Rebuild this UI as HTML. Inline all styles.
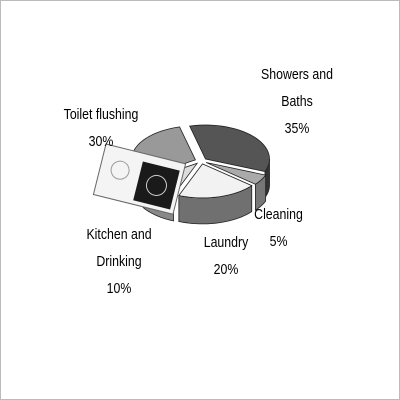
<!DOCTYPE html>
<html><head><meta charset="utf-8"><style>
body{margin:0;background:#fff}
#wrap{position:relative;width:398px;height:398px;border:1px solid #bbb;overflow:hidden}
.l{position:absolute;font-family:"Liberation Sans",sans-serif;font-size:14.5px;text-align:center;line-height:27px;color:#000;transform:scaleX(0.85)}
</style></head><body>
<div id="wrap">
<svg id="pie" width="398" height="398"></svg>
<div class="l" style="left:236px;top:61px;width:120px">Showers and<br>Baths<br>35%</div>
<div class="l" style="left:40px;top:101px;width:120px">Toilet flushing<br>30%</div>
<div class="l" style="left:240px;top:201px;width:75px">Cleaning<br>5%</div>
<div class="l" style="left:190px;top:229px;width:70px">Laundry<br>20%</div>
<div class="l" style="left:63px;top:221px;width:110px">Kitchen and<br>Drinking<br>10%</div>
</div>
<script>
const categories=["Showers and Baths","Cleaning","Laundry","Kitchen and Drinking","Toilet flushing"];
const values=[35,5,20,10,30];
const topColors=["#555","#aaa","#f2f2f2","#ddd","#999"];
const sideColors=["#333","#777","#707070","#888","#555"];
const svg=document.getElementById('pie');
const NS="http://www.w3.org/2000/svg";
const cx=200,cy=160,rx=64,ry=34,depth=26;
const total=values.reduce((a,b)=>a+b,0);
function pt(a,dy,off){return [cx+off[0]+rx*Math.cos(a),cy+off[1]+ry*Math.sin(a)+dy];}
let start=-Math.PI/2-0.25;
const slices=values.map((v,i)=>{const a0=start,a1=start+v/total*2*Math.PI;start=a1;
 const m=(a0+a1)/2;return {i,a0,a1,off:[6*Math.cos(m),3*Math.sin(m)]};});
function arc(a0,a1,dy,off,n=30){let s=[];for(let k=0;k<=n;k++){const p=pt(a0+(a1-a0)*k/n,dy,off);s.push(p);}return s;}
slices.forEach(s=>{
 let lo=Math.max(s.a0,0),hi=Math.min(s.a1,Math.PI);
 if(s.a1>2*Math.PI){lo=Math.max(s.a0,2*Math.PI);hi=Math.min(s.a1,3*Math.PI);}
 if(hi>lo){const top=arc(lo,hi,0,s.off),bot=arc(hi,lo,depth,s.off);
  const p=document.createElementNS(NS,'path');
  p.setAttribute('d','M'+top.concat(bot).map(q=>q.join(',')).join('L')+'Z');
  p.setAttribute('fill',sideColors[s.i]);p.setAttribute('stroke','#222');p.setAttribute('stroke-width','0.8');
  
  
  svg.appendChild(p);}
});
slices.forEach(s=>{
 const pts=arc(s.a0,s.a1,0,s.off);
 const c=[cx+s.off[0],cy+s.off[1]];
 const p=document.createElementNS(NS,'path');
 p.setAttribute('d','M'+c.join(',')+'L'+pts.map(q=>q.join(',')).join('L')+'Z');
 p.setAttribute('fill',topColors[s.i]);p.setAttribute('stroke','#222');p.setAttribute('stroke-width','0.8');
 
 
 svg.appendChild(p);
});
const g=document.createElementNS(NS,'g');
g.setAttribute('transform','translate(105,143) rotate(14)');


g.innerHTML='<rect x="0" y="0" width="82" height="52" fill="#f4f4f4" stroke="#666"/><rect x="40" y="8" width="38" height="40" fill="#1a1a1a"/><circle cx="20" cy="22" r="9" fill="none" stroke="#999"/><circle cx="59" cy="28" r="10" fill="none" stroke="#ccc"/>';
svg.appendChild(g);
</script>
</body></html>
